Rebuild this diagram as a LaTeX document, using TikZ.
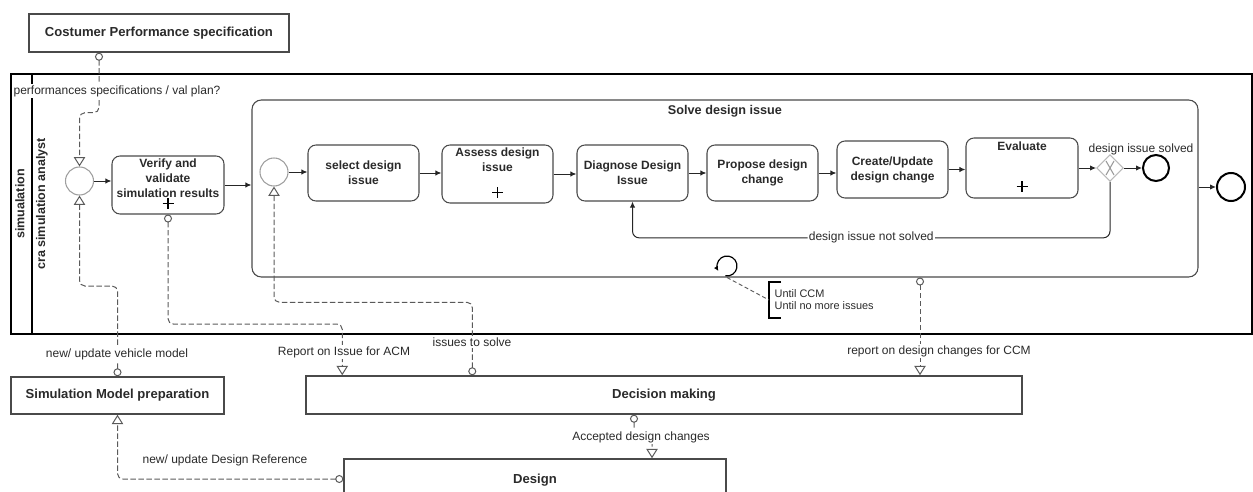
\documentclass[tikz,border=0pt]{standalone}
\usepackage{fontspec}
\setmainfont{Liberation Sans}
\usetikzlibrary{arrows.meta,shapes.geometric,calc}
\definecolor{txt}{HTML}{2A2A2A}
\definecolor{tb}{HTML}{4A4A4A}
\definecolor{mf}{HTML}{5A5A5A}
\begin{document}
\begin{tikzpicture}[x=0.75pt,y=-0.75pt,
  task/.style={draw=tb, line width=0.8pt, rounded corners=6pt, font=\bfseries\fontsize{9}{11.25}\selectfont, align=center, text=txt, inner sep=1pt},
  sqbox/.style={draw=tb, line width=1.1pt, font=\bfseries\fontsize{9.8}{11.5}\selectfont, text=txt, inner sep=1pt},
  tasktext/.style={font=\bfseries\fontsize{9}{11.25}\selectfont, align=center, text=txt, inner sep=0pt},
  startev/.style={circle, draw=gray!75, line width=0.8pt, minimum size=21pt, inner sep=0pt},
  endev/.style={circle, draw=black, line width=1.5pt, inner sep=0pt},
  seq/.style={-{Latex[length=4.5pt,width=4pt]}, line width=0.75pt, draw=black!85},
  msg/.style={dash pattern=on 4pt off 2pt, draw=mf, line width=0.75pt, rounded corners=4pt,
     {Circle[open,length=6pt,width=6pt]}-{Triangle[open,length=7pt,width=8.5pt]}},
  lbl/.style={font=\fontsize{9}{10.5}\selectfont, text=txt, fill=white, inner sep=1pt},
  lblnf/.style={font=\fontsize{9}{10.5}\selectfont, text=txt, inner sep=1pt},
  plusmark/.pic={\draw[line width=1.1pt, black] (-5.5,0)--(5.5,0) (0,-5.5)--(0,5.5);}
]
\useasboundingbox (0,0) rectangle (1253,492);

% pool
\draw[line width=1.5pt] (11,74) rectangle (1252,334);
\draw[line width=1.5pt] (32,74) -- (32,334);
\node[rotate=90, font=\bfseries\fontsize{9.4}{11}\selectfont, text=txt] (pool) at (20,204) {simualation};
\node[rotate=90, font=\bfseries\fontsize{9.4}{11}\selectfont, text=txt] (lane) at (42,204) {cra simulation analyst};

% outer boxes
\node[sqbox, minimum width=195pt, minimum height=28.5pt] (cps) at (159,33) {Costumer Performance specification};
\node[sqbox, minimum width=159.75pt, minimum height=27.75pt] (simprep) at (117.5,395.5) {Simulation Model preparation};
\node[sqbox, minimum width=537pt, minimum height=28.5pt] (dec) at (664,395) {Decision making};
\node[sqbox, minimum width=286.5pt, minimum height=46.5pt] (design) at (535,490) {};
\node[tasktext, font=\bfseries\fontsize{9.8}{11.5}\selectfont] (designtxt) at (535,480) {Design};

% main flow
\node[startev] (start) at (79.5,181) {};
\node[task, minimum width=84pt, minimum height=43.5pt] (verify) at (168,185) {};
\node[tasktext] (verifytxt) at (168,178) {Verify and\\validate\\simulation results};
\pic at ([yshift=8.25pt]verify.south) {plusmark};

\node[draw=tb, line width=0.8pt, rounded corners=7pt, minimum width=709.5pt, minimum height=132.75pt] (sub) at (725,188.5) {};
\node[tasktext, font=\bfseries\fontsize{9.5}{11.25}\selectfont] (subtxt) at (725,111) {Solve design issue};

\node[startev] (istart) at (274,172) {};
\node[task, minimum width=83.25pt, minimum height=42pt] (sel) at (363.5,173) {select design\\issue};
\node[task, minimum width=83.25pt, minimum height=43.5pt] (assess) at (497.5,174) {};
\node[tasktext] (assesstxt) at (497.5,159.5) {Assess design\\issue};
\pic at ([yshift=8.25pt]assess.south) {plusmark};
\node[task, minimum width=83.25pt, minimum height=42pt] (diag) at (632.5,173) {Diagnose Design\\Issue};
\node[task, minimum width=83.25pt, minimum height=42pt] (prop) at (762.5,173) {Propose design\\change};
\node[task, minimum width=83.25pt, minimum height=42.75pt] (create) at (892.5,169.5) {Create/Update\\design change};
\node[task, minimum width=84pt, minimum height=45pt] (eval) at (1022,168) {};
\node[tasktext] (evaltxt) at (1022,146) {Evaluate};
\pic at ([yshift=9pt]eval.south) {plusmark};

\node[diamond, draw=gray!55, line width=0.8pt, minimum width=20pt, minimum height=20pt, inner sep=0pt] (gw) at (1110,168) {};
\draw[gray!80, line width=0.8pt] (1106,161) -- (1114,175) (1114,161) -- (1106,175);
\node[lblnf] (gwlbl) at (1141,149) {design issue solved};
\node[endev, minimum size=19.5pt] (iend) at (1156,168) {};
\node[endev, minimum size=21pt] (oend) at (1231,187) {};

% sequence flows
\draw[seq] (start.east) -- (start.east -| verify.west);
\draw[seq] (verify.east) -- (verify.east -| sub.west);
\draw[seq] (istart.east) -- (istart.east -| sel.west);
\draw[seq] (sel.east) -- (sel.east -| assess.west);
\draw[seq] (assess.east) -- (assess.east -| diag.west);
\draw[seq] (diag.east) -- (diag.east -| prop.west);
\draw[seq] (prop.east) -- (prop.east -| create.west);
\draw[seq] (create.east) -- (create.east -| eval.west);
\draw[seq] (eval.east) -- (gw.west);
\draw[seq] (gw.east) -- (iend.west);
\draw[seq] (sub.east |- oend) -- (oend.west);
\draw[seq, rounded corners=5pt] (gw.south) -- ++(0,56) -| (diag.south)
  node[pos=0.25, lbl] {design issue not solved};

% loop marker
\draw[line width=0.9pt, -{Latex[length=3.5pt,width=3.5pt]}] (727,266) ++(100:10) arc[start angle=100, end angle=-210, radius=10];

% annotation
\node[anchor=west, align=left, font=\fontsize{8.2}{9}\selectfont, text=txt, minimum height=27pt, inner xsep=4pt] (ann) at (769,300) {Until CCM\\Until no more issues};
\draw[line width=1.3pt] ([xshift=9pt]ann.north west) -- (ann.north west) -- (ann.south west) -- ([xshift=9pt]ann.south west);
\draw[dash pattern=on 3pt off 2pt, draw=mf, line width=0.7pt] ([xshift=1.5pt]sub.south) -- (ann.west);

% message flows
\draw[msg] ([xshift=-45pt]cps.south) -- ++(0,60) -| (start.north);
\node[lbl] (l1) at (117,91) {performances specifications / val plan?};

\draw[msg] (simprep.north) -- (simprep.north |- 0,286) -| (start.south);
\node[lbl] (l2) at (117,354) {new/ update vehicle model};

\draw[msg] (verify.south) -- (verify.south |- 0,324) -| ([xshift=27.75pt]dec.north west);
\node[lbl] (l3) at (344,352) {Report on Issue for ACM};

\draw[msg] ([xshift=125.25pt]dec.north west) -- ++(0,-73) -| (istart.south);
\node[lbl] (l4) at (472,342) {issues to solve};

\draw[msg] ([xshift=146.25pt]sub.south) -- ([xshift=192pt]dec.north);
\node[lbl] (l5) at (939,351) {report on design changes for CCM};

\draw[msg] ([xshift=-22.5pt]dec.south) -- ++(0,23) -| ([xshift=87.75pt]design.north);
\node[lbl] (l6) at (641,437) {Accepted design changes};

\draw[msg] ([yshift=8.25pt]design.west) -| (simprep.south);
\node[lbl] (l7) at (225,460) {new/ update Design Reference};
\end{tikzpicture}
\end{document}
